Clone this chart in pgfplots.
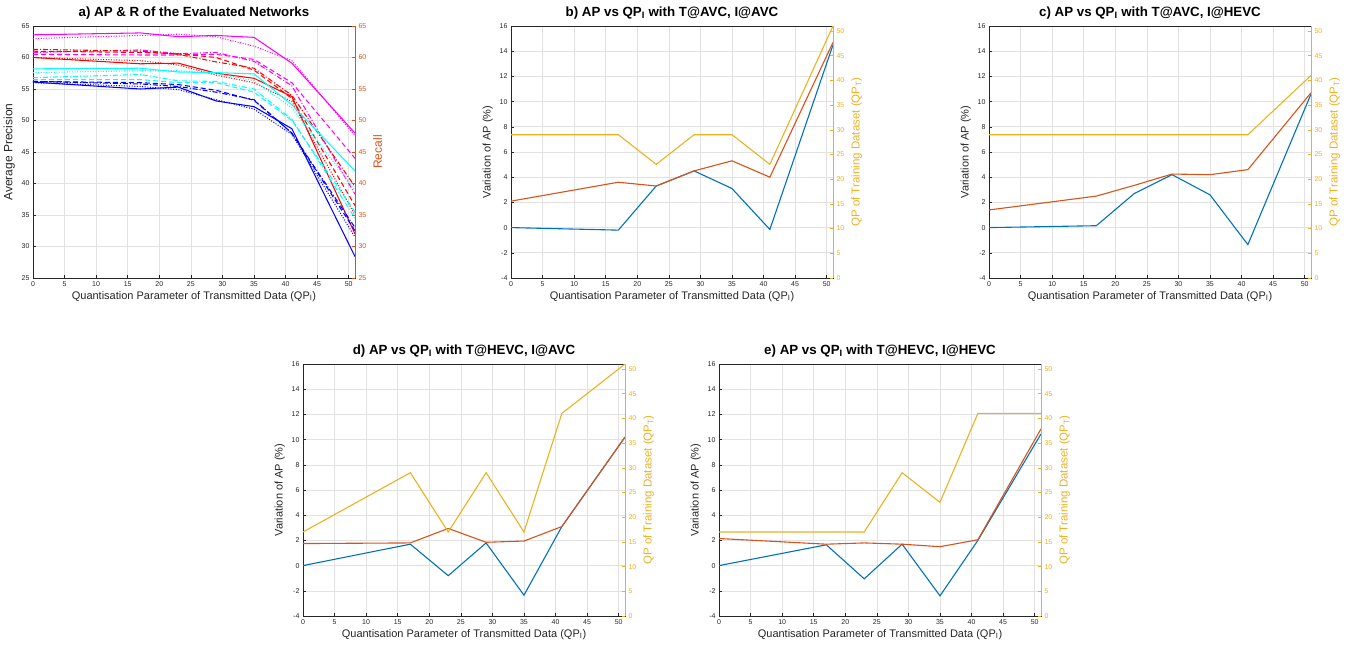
\documentclass[border=0pt]{standalone}
\usepackage{pgfplots}
\pgfplotsset{compat=1.18}
\usepackage{fontspec}
\setmainfont{Liberation Sans}
\definecolor{mblue}{HTML}{0072BD}
\definecolor{morange}{HTML}{D95319}
\definecolor{myellow}{HTML}{EDB120}
\definecolor{axgray}{HTML}{262626}
\definecolor{gridgray}{HTML}{E2E2E2}
\definecolor{cc}{HTML}{00FFFF}
\definecolor{mm}{HTML}{FF00FF}
\definecolor{rr}{HTML}{FF0000}
\definecolor{bb}{HTML}{0000FF}
\pgfplotsset{
  mstyle/.style={
    scale only axis, width=322pt, height=252pt,
    xmin=0, xmax=51, xtick={0,5,...,50},
    tick align=inside, major tick length=3pt,
    /pgf/number format/assume math mode=true,
    ticklabel style={font=\fontsize{7}{8}\selectfont, text=axgray},
    label style={font=\fontsize{11}{13}\selectfont, text=axgray},
    title style={font=\bfseries\fontsize{13.3}{15}\selectfont, text=black, yshift=-3pt},
    axis line style={axgray, line width=0.6pt},
    every tick/.style={axgray, line width=0.5pt},
    clip mode=individual,
  },
  leftax/.style={mstyle, xmajorgrids, ymajorgrids, major grid style={gridgray, line width=0.6pt},
    ytick pos=left, xtick pos=bottom,
    xlabel={Quantisation Parameter of Transmitted Data (QP\textsubscript{I})},
    xlabel style={yshift=2pt}},
  rightax/.style={mstyle, axis y line*=right, axis x line=none,
    y axis line style={#1, line width=0.6pt},
    yticklabel style={text=#1}, ylabel style={text=#1, font=\fontsize{11.5}{13}\selectfont},
    every y tick/.style={#1, line width=0.5pt}},
  bpl/.style={line width=1.1pt},
  apl/.style={line width=1.05pt},
  dsh/.style={dash pattern=on 5pt off 3pt},
  dot/.style={dash pattern=on 1pt off 1.6pt},
  dd/.style={dash pattern=on 5pt off 2pt on 1pt off 2pt},
}
\begin{document}
\begin{tikzpicture}
\path[use as bounding box] (0,0) rectangle (1354pt,648pt);
% ---------------- a)
\begin{axis}[leftax, at={(33pt,370pt)}, anchor=south west,
  ymin=25, ymax=65, ytick={25,30,...,65},
  ylabel={Average Precision}, ylabel style={font=\fontsize{12}{14}\selectfont},
  title={a) AP \& R of the Evaluated Networks}]
\addplot[mm, apl] coordinates {(0,63.6)(17,63.9)(23,63.3)(29,63.5)(35,63.2)(41,59.1)(51,48.0)};
\addplot[mm, apl, dot] coordinates {(0,63.0)(17,63.5)(23,63.7)(29,63.3)(35,61.8)(41,59.5)(51,47.6)};
\addplot[mm, apl, dsh] coordinates {(0,60.5)(17,60.4)(23,60.4)(29,60.5)(35,59.7)(41,56.0)(51,44.0)};
\addplot[mm, apl, dd] coordinates {(0,60.8)(17,61.2)(23,60.6)(29,60.8)(35,59.4)(41,55.5)(51,38.3)};
\addplot[rr, apl, dd] coordinates {(0,61.3)(17,61.0)(23,60.5)(29,59.3)(35,58.3)(41,54.0)(51,39.5)};
\addplot[rr, apl, dsh] coordinates {(0,61.0)(17,60.8)(23,60.6)(29,60.0)(35,58.0)(41,53.5)(51,36.5)};
\addplot[rr, apl, dot] coordinates {(0,60.0)(17,59.5)(23,58.8)(29,57.2)(35,56.0)(41,53.0)(51,35.0)};
\addplot[rr, apl] coordinates {(0,60.0)(17,59.0)(23,59.1)(29,57.5)(35,56.7)(41,53.8)(51,32.0)};
\addplot[cc, apl] coordinates {(0,58.2)(17,58.3)(23,57.7)(29,57.6)(35,57.4)(41,52.5)(51,42.0)};
\addplot[cc, apl, dot] coordinates {(0,57.6)(17,57.9)(23,57.9)(29,57.5)(35,56.3)(41,52.0)(51,39.0)};
\addplot[cc, apl, dd] coordinates {(0,56.8)(17,57.3)(23,56.3)(29,56.2)(35,55.0)(41,50.2)(51,34.5)};
\addplot[cc, apl, dsh] coordinates {(0,56.5)(17,56.5)(23,56.0)(29,56.0)(35,54.5)(41,50.0)(51,35.5)};
\addplot[bb, apl, dsh] coordinates {(0,56.2)(17,56.0)(23,55.7)(29,54.8)(35,53.2)(41,48.0)(51,32.5)};
\addplot[bb, apl, dd] coordinates {(0,56.2)(17,55.8)(23,55.4)(29,54.5)(35,53.3)(41,48.0)(51,33.0)};
\addplot[bb, apl, dot] coordinates {(0,56.0)(17,55.4)(23,54.9)(29,53.3)(35,51.8)(41,47.8)(51,31.5)};
\addplot[bb, apl] coordinates {(0,56.1)(17,55.0)(23,55.3)(29,53.1)(35,52.2)(41,48.7)(51,28.4)};
\end{axis}
\begin{axis}[rightax=morange, at={(33pt,370pt)}, anchor=south west,
  ymin=25, ymax=65, ytick={25,30,...,65}, ylabel={Recall}, ylabel style={font=\fontsize{12}{14}\selectfont}]
\end{axis}
% ---------------- b)
\begin{axis}[leftax, at={(511pt,370pt)}, anchor=south west,
  ymin=-4, ymax=16, ytick={-4,-2,...,16}, ylabel={Variation of AP (\%)},
  title={b) AP vs QP\textsubscript{I} with T@AVC, I@AVC}]
\addplot[mblue, bpl] coordinates {(0,0)(17,-0.2)(23,3.3)(29,4.5)(35,3.1)(41,-0.15)(51,14.5)};
\addplot[morange, bpl] coordinates {(0,2.1)(17,3.6)(23,3.3)(29,4.5)(35,5.3)(41,4.0)(51,14.7)};
\end{axis}
\begin{axis}[rightax=myellow, at={(511pt,370pt)}, anchor=south west,
  ymin=0, ymax=51, ytick={0,5,...,50}, ylabel={QP of Training Dataset (QP\textsubscript{T})}]
\addplot[myellow, bpl] coordinates {(0,29)(17,29)(23,23)(29,29)(35,29)(41,23)(51,51)};
\end{axis}
% ---------------- c)
\begin{axis}[leftax, at={(989pt,370pt)}, anchor=south west,
  ymin=-4, ymax=16, ytick={-4,-2,...,16}, ylabel={Variation of AP (\%)},
  title={c) AP vs QP\textsubscript{I} with T@AVC, I@HEVC}]
\addplot[mblue, bpl] coordinates {(0,0)(17,0.15)(23,2.7)(29,4.2)(35,2.6)(41,-1.35)(51,10.6)};
\addplot[morange, bpl] coordinates {(0,1.4)(17,2.5)(23,3.35)(29,4.25)(35,4.2)(41,4.6)(51,10.7)};
\end{axis}
\begin{axis}[rightax=myellow, at={(989pt,370pt)}, anchor=south west,
  ymin=0, ymax=51, ytick={0,5,...,50}, ylabel={QP of Training Dataset (QP\textsubscript{T})}]
\addplot[myellow, bpl] coordinates {(0,29)(17,29)(23,29)(29,29)(35,29)(41,29)(51,41)};
\end{axis}
% ---------------- d)
\begin{axis}[leftax, at={(303pt,32pt)}, anchor=south west,
  ymin=-4, ymax=16, ytick={-4,-2,...,16}, ylabel={Variation of AP (\%)},
  title={d) AP vs QP\textsubscript{I} with T@HEVC, I@AVC}]
\addplot[mblue, bpl] coordinates {(0,0)(17,1.7)(23,-0.8)(29,1.8)(35,-2.35)(41,3.1)(51,10.2)};
\addplot[morange, bpl] coordinates {(0,1.75)(17,1.8)(23,2.95)(29,1.85)(35,1.95)(41,3.1)(51,10.2)};
\end{axis}
\begin{axis}[rightax=myellow, at={(303pt,32pt)}, anchor=south west,
  ymin=0, ymax=51, ytick={0,5,...,50}, ylabel={QP of Training Dataset (QP\textsubscript{T})}]
\addplot[myellow, bpl] coordinates {(0,17)(17,29)(23,17)(29,29)(35,17)(41,41)(51,51)};
\end{axis}
% ---------------- e)
\begin{axis}[leftax, at={(719pt,32pt)}, anchor=south west,
  ymin=-4, ymax=16, ytick={-4,-2,...,16}, ylabel={Variation of AP (\%)},
  title={e) AP vs QP\textsubscript{I} with T@HEVC, I@HEVC}]
\addplot[mblue, bpl] coordinates {(0,0)(17,1.65)(23,-1.05)(29,1.7)(35,-2.4)(41,2.0)(51,10.45)};
\addplot[morange, bpl] coordinates {(0,2.15)(17,1.7)(23,1.8)(29,1.7)(35,1.5)(41,2.05)(51,10.85)};
\end{axis}
\begin{axis}[rightax=myellow, at={(719pt,32pt)}, anchor=south west,
  ymin=0, ymax=51, ytick={0,5,...,50}, ylabel={QP of Training Dataset (QP\textsubscript{T})}]
\addplot[myellow, bpl] coordinates {(0,17)(17,17)(23,17)(29,29)(35,23)(41,41)(51,41)};
\end{axis}
\end{tikzpicture}
\end{document}
